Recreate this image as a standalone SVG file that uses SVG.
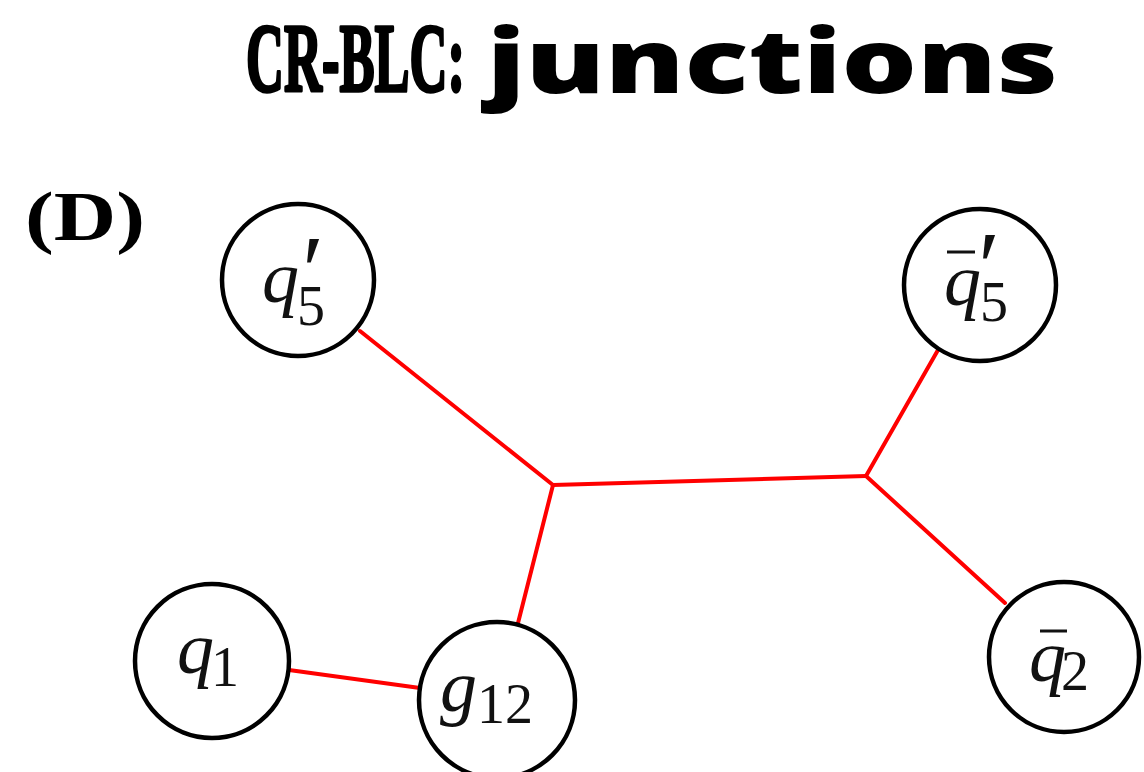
<svg xmlns="http://www.w3.org/2000/svg" width="1144" height="772" viewBox="0 0 1144 772">
<style>
.node{fill:#fff;stroke:#000;stroke-width:4.5}
.edge{stroke:#ff0000;stroke-width:4;fill:none;stroke-linecap:round}
.m{font-family:"Liberation Serif",serif;font-style:italic;font-size:74px;fill:#111}
.s{font-family:"Liberation Serif",serif;font-style:normal;font-size:56px;fill:#111}
.p{font-family:"Liberation Serif",serif;font-style:italic;font-size:100px;fill:#111}
.bar{stroke:#111;stroke-width:3}
</style>
<rect width="1144" height="772" fill="#fff"/>
<text x="246" y="91" font-family="Liberation Serif,serif" font-weight="bold" font-size="98" stroke="#000" stroke-width="3.5" stroke-linejoin="round" textLength="219" lengthAdjust="spacingAndGlyphs">CR-BLC:</text>
<text x="487" y="93" font-family="Open Sans,sans-serif" font-weight="800" font-size="88" textLength="571" lengthAdjust="spacingAndGlyphs">junctions</text>
<text x="25" y="240" font-family="Liberation Serif,serif" font-weight="bold" font-size="70" textLength="120" lengthAdjust="spacingAndGlyphs">(D)</text>
<g id="connectors">
<line class="edge" x1="360" y1="331" x2="553" y2="485"/>
<line class="edge" x1="553" y1="485" x2="866" y2="476"/>
<line class="edge" x1="553" y1="485" x2="517" y2="627"/>
<line class="edge" x1="866" y1="476" x2="938" y2="350"/>
<line class="edge" x1="866" y1="476" x2="1005" y2="603"/>
<line class="edge" x1="289" y1="670" x2="420" y2="688"/>
</g>
<g id="q5p">
<circle class="node" cx="298" cy="280" r="76"/>
<text class="m" x="262" y="302">q</text>
<text class="s" x="297" y="325">5</text>
<text class="p" x="296" y="304">′</text>
</g>
<g id="qbar5p">
<circle class="node" cx="980" cy="285" r="76"/>
<text class="m" x="944" y="305">q</text>
<line class="bar" x1="947" y1="252" x2="975" y2="252"/>
<text class="s" x="980" y="321">5</text>
<text class="p" x="972" y="300">′</text>
</g>
<g id="q1">
<circle class="node" cx="212" cy="661" r="77"/>
<text class="m" x="177" y="673">q</text>
<text class="s" x="211" y="686">1</text>
</g>
<g id="g12">
<circle class="node" cx="497" cy="700" r="78"/>
<text class="m" x="440" y="711">g</text>
<text class="s" x="477" y="723">12</text>
</g>
<g id="qbar2">
<circle class="node" cx="1064" cy="657" r="75"/>
<text class="m" x="1029" y="681">q</text>
<line class="bar" x1="1040" y1="631" x2="1067" y2="631"/>
<text class="s" x="1061" y="690">2</text>
</g>
</svg>
